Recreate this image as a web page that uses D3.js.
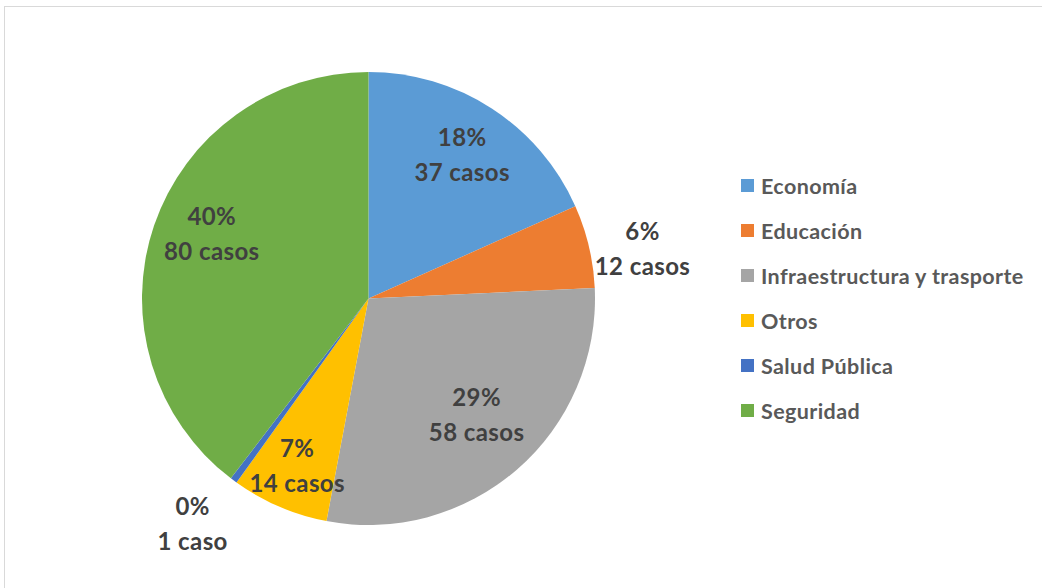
<!DOCTYPE html>
<html>
<head>
<meta charset="utf-8">
<script src="https://cdn.jsdelivr.net/npm/d3@7"></script>
<style>
  body { margin: 0; background: #fff; }
  svg { display: block; font-family: Lato, "Liberation Sans", sans-serif; font-weight: bold; }
</style>
</head>
<body>
<svg width="1042" height="588"></svg>
<script>
const categories = ["Economía", "Educación", "Infraestructura y trasporte", "Otros", "Salud Pública", "Seguridad"];
const cases = [37, 12, 58, 14, 1, 80];
const percents = ["18%", "6%", "29%", "7%", "0%", "40%"];
const sliceColors = ["#5b9bd5", "#ed7d31", "#a5a5a5", "#ffc000", "#4472c4", "#70ad47"];

const CX = 368.5, CY = 298.5, R = 226.5;
// label placement (radius as fraction of R, angle nudge in degrees), like Excel's best fit
const LABEL_R = [0.76, 1.23, 0.70, 0.80, 1.26, 0.75];
const LABEL_NUDGE = [0, 3, -2, 0, 1.5, 4];

const svg = d3.select("svg");

// outer chart border
svg.append("rect")
  .attr("x", 4.5).attr("y", 6.5)
  .attr("width", 1060).attr("height", 600)
  .attr("fill", "none")
  .attr("stroke", "#d9d9d9")
  .attr("stroke-width", 1);

const data = categories.map((c, i) => ({ i, name: c, value: cases[i], pct: percents[i], color: sliceColors[i] }));

const pie = d3.pie().value(d => d.value).sort(null);
const arcs = pie(data);
const arc = d3.arc().innerRadius(0).outerRadius(R);

const g = svg.append("g").attr("transform", `translate(${CX},${CY})`);

g.selectAll("path")
  .data(arcs)
  .enter()
  .append("path")
  .attr("d", arc)
  .attr("fill", d => d.data.color);

const labelPos = d => {
  const a = (d.startAngle + d.endAngle) / 2 + LABEL_NUDGE[d.data.i] * Math.PI / 180;
  const rr = R * LABEL_R[d.data.i];
  return [Math.sin(a) * rr, -Math.cos(a) * rr];
};

const labels = g.selectAll(".lbl")
  .data(arcs)
  .enter()
  .append("text")
  .attr("class", "lbl")
  .attr("text-anchor", "middle")
  .attr("font-size", 24)
  .attr("letter-spacing", 0.4)
  .attr("fill", "#404040")
  .attr("transform", d => `translate(${labelPos(d)})`);

labels.append("tspan")
  .attr("x", 0).attr("y", -8)
  .text(d => d.data.pct);
labels.append("tspan")
  .attr("x", 0).attr("y", 27)
  .text(d => d.data.value + (d.data.value === 1 ? " caso" : " casos"));

// legend
const legend = svg.append("g").attr("transform", "translate(741,186)");
const y = d3.scaleBand().domain(categories).range([0, 270]);

const item = legend.selectAll(".item")
  .data(data)
  .enter()
  .append("g")
  .attr("transform", d => `translate(0,${y(d.name)})`);

item.append("rect")
  .attr("x", 0).attr("y", -7)
  .attr("width", 13).attr("height", 13)
  .attr("fill", d => d.color);

item.append("text")
  .attr("x", 20).attr("y", 7.5)
  .attr("font-size", 21.5)
  .attr("letter-spacing", 0.4)
  .attr("fill", "#595959")
  .text(d => d.name);
</script>
</body>
</html>
